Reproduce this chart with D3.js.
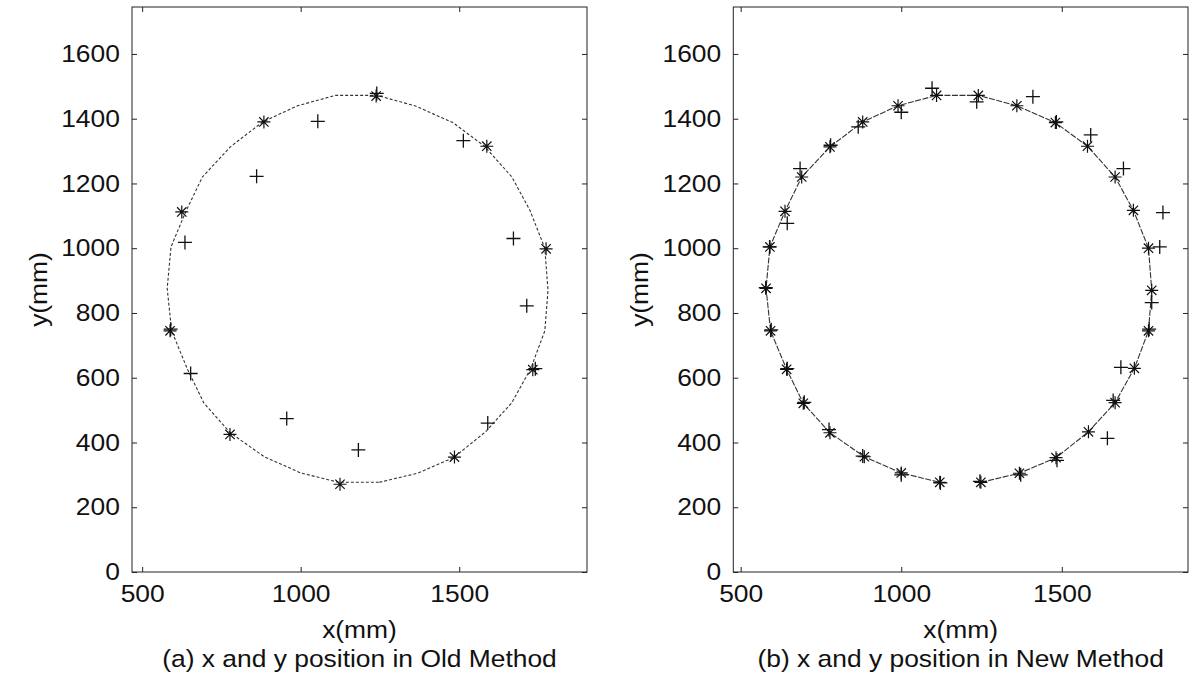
<!DOCTYPE html>
<html><head><meta charset="utf-8">
<script src="https://cdn.jsdelivr.net/npm/d3@7"></script>
<style>
body{margin:0;background:#fff;}
svg{display:block;}
text{font-family:"Liberation Sans",Arial,sans-serif;fill:#111;}
</style>
</head><body><svg id="c" width="1190" height="685"></svg>
<script>
// ---- data ----
const xTicks = [500, 1000, 1500];
const yTicks = [0, 200, 400, 600, 800, 1000, 1200, 1400, 1600];
// reference trajectory (vertices of the drawn circle path)
const pathX = [1248,1368,1482,1583,1666,1726,1770,1780,1770,1723,1666,1580,1480,1360,1240,1110,990,880,778,690,638,591,579,593,643,695,778,885,1000,1120];
const pathY = [277,305,353,433,523,629,745,870,1000,1117,1220,1315,1388,1440,1472,1472,1440,1390,1313,1220,1114,1004,876,745,626,521,430,356,306,277];
// (a) old method: true positions (*) and estimates (+)
const oldStarX = [1238,1587,1774,1732,1485,1124,777,588,625,884];
const oldStarY = [1470,1315,998,625,355,271,425,745,1112,1390];
const oldPlusX = [1240,1513,1671,1713,1740,1590,1182,956,653,590,635,861,1054];
const oldPlusY = [1478,1332,1030,822,628,460,377,474,613,750,1018,1222,1392];
// (b) new method: estimates (+); true positions are the path vertices
const newPlusX = [1245,1372,1485,1642,1660,1684,1772,1780,1805,1815,1692,1590,1483,1410,1235,1096,1000,866,780,685,645,590,578,595,645,698,775,880,1000,1122];
const newPlusY = [280,300,345,413,530,632,750,832,1004,1110,1246,1350,1390,1468,1452,1494,1420,1375,1318,1246,1077,1004,878,748,628,524,440,358,300,275];
const xLabel = "x(mm)";
const yLabel = "y(mm)";
const captions = ["(a) x and y position in Old Method", "(b) x and y position in New Method"];

// ---- drawing ----
const svg = d3.select("#c");
const FS = 24, SX = 1.1;
const plotTop = 7, plotBottom = 572;
const yDomain = [0, 1745];
const fmt = d3.format("d");

function starPath(cx, cy, r) {
  const d = r * 0.72;
  return `M${cx-r},${cy}H${cx+r}M${cx},${cy-r}V${cy+r}M${cx-d},${cy-d}L${cx+d},${cy+d}M${cx-d},${cy+d}L${cx+d},${cy-d}`;
}
function plusPath(cx, cy, r) {
  return `M${cx-r},${cy}H${cx+r}M${cx},${cy-r}V${cy+r}`;
}

function panel(cfg) {
  const g = svg.append("g");
  const x = d3.scaleLinear().domain(cfg.xDomain).range([cfg.left, cfg.right]);
  const y = d3.scaleLinear().domain(yDomain).range([plotBottom, plotTop]);

  const axB = g.append("g").attr("transform", `translate(0,${plotBottom})`)
    .call(d3.axisBottom(x).tickValues(xTicks).tickFormat(fmt).tickSize(-5).tickPadding(13));
  const axL = g.append("g").attr("transform", `translate(${cfg.left},0)`)
    .call(d3.axisLeft(y).tickValues(yTicks).tickFormat(fmt).tickSize(-5).tickPadding(11));
  const axT = g.append("g").attr("transform", `translate(0,${plotTop})`)
    .call(d3.axisTop(x).tickValues(xTicks).tickSize(-5).tickFormat(""));
  const axR = g.append("g").attr("transform", `translate(${cfg.right},0)`)
    .call(d3.axisRight(y).tickValues(yTicks).tickSize(-5).tickFormat(""));
  [axB, axL, axT, axR].forEach(a => {
    a.select(".domain").remove();
    a.attr("font-size", FS).attr("font-family", '"Liberation Sans",Arial,sans-serif');
    a.selectAll("line").attr("stroke", "#222");
    a.selectAll("text").attr("transform", `scale(${SX},1)`).attr("fill", "#111");
  });

  g.append("rect").attr("x", cfg.left).attr("y", plotTop)
    .attr("width", cfg.right - cfg.left).attr("height", plotBottom - plotTop)
    .attr("fill", "none").attr("stroke", "#222").attr("stroke-width", 1);

  const pts = pathX.map((v, i) => [v, pathY[i]]);
  const line = d3.line().x(d => x(d[0])).y(d => y(d[1]))
    .curve(cfg.closed ? d3.curveLinearClosed : d3.curveLinear);
  g.append("path").attr("d", line(pts)).attr("fill", "none")
    .attr("stroke", "#333").attr("stroke-width", 1.1).attr("stroke-dasharray", cfg.dash);

  g.append("g").selectAll("path").data(cfg.starX.map((v, i) => [v, cfg.starY[i]]))
    .join("path").attr("d", d => starPath(x(d[0]), y(d[1]), 6.5))
    .attr("stroke", "#111").attr("stroke-width", 1.2).attr("fill", "none");

  g.append("g").selectAll("path").data(cfg.plusX.map((v, i) => [v, cfg.plusY[i]]))
    .join("path").attr("d", d => plusPath(x(d[0]), y(d[1]), 7))
    .attr("stroke", "#111").attr("stroke-width", 1.3).attr("fill", "none");

  const cx = (cfg.left + cfg.right) / 2;
  g.append("text").attr("transform", `translate(${cx},638) scale(${SX},1)`)
    .attr("text-anchor", "middle").attr("font-size", FS).text(xLabel);
  g.append("text").attr("transform", `translate(${cfg.left - 94},${(plotTop + plotBottom) / 2}) rotate(-90) scale(${SX},1)`)
    .attr("text-anchor", "middle").attr("dominant-baseline", "central").attr("font-size", FS).text(yLabel);
  g.append("text").attr("transform", `translate(${cx},667) scale(${SX},1)`)
    .attr("text-anchor", "middle").attr("font-size", FS).text(cfg.caption);
}

panel({left: 132, right: 587, xDomain: [468, 1903], closed: true, dash: "3,2",
  starX: oldStarX, starY: oldStarY, plusX: oldPlusX, plusY: oldPlusY, caption: captions[0]});
panel({left: 733.3, right: 1188, xDomain: [477, 1893], closed: false, dash: "6,1.5",
  starX: pathX, starY: pathY, plusX: newPlusX, plusY: newPlusY, caption: captions[1]});
</script>
</body></html>
